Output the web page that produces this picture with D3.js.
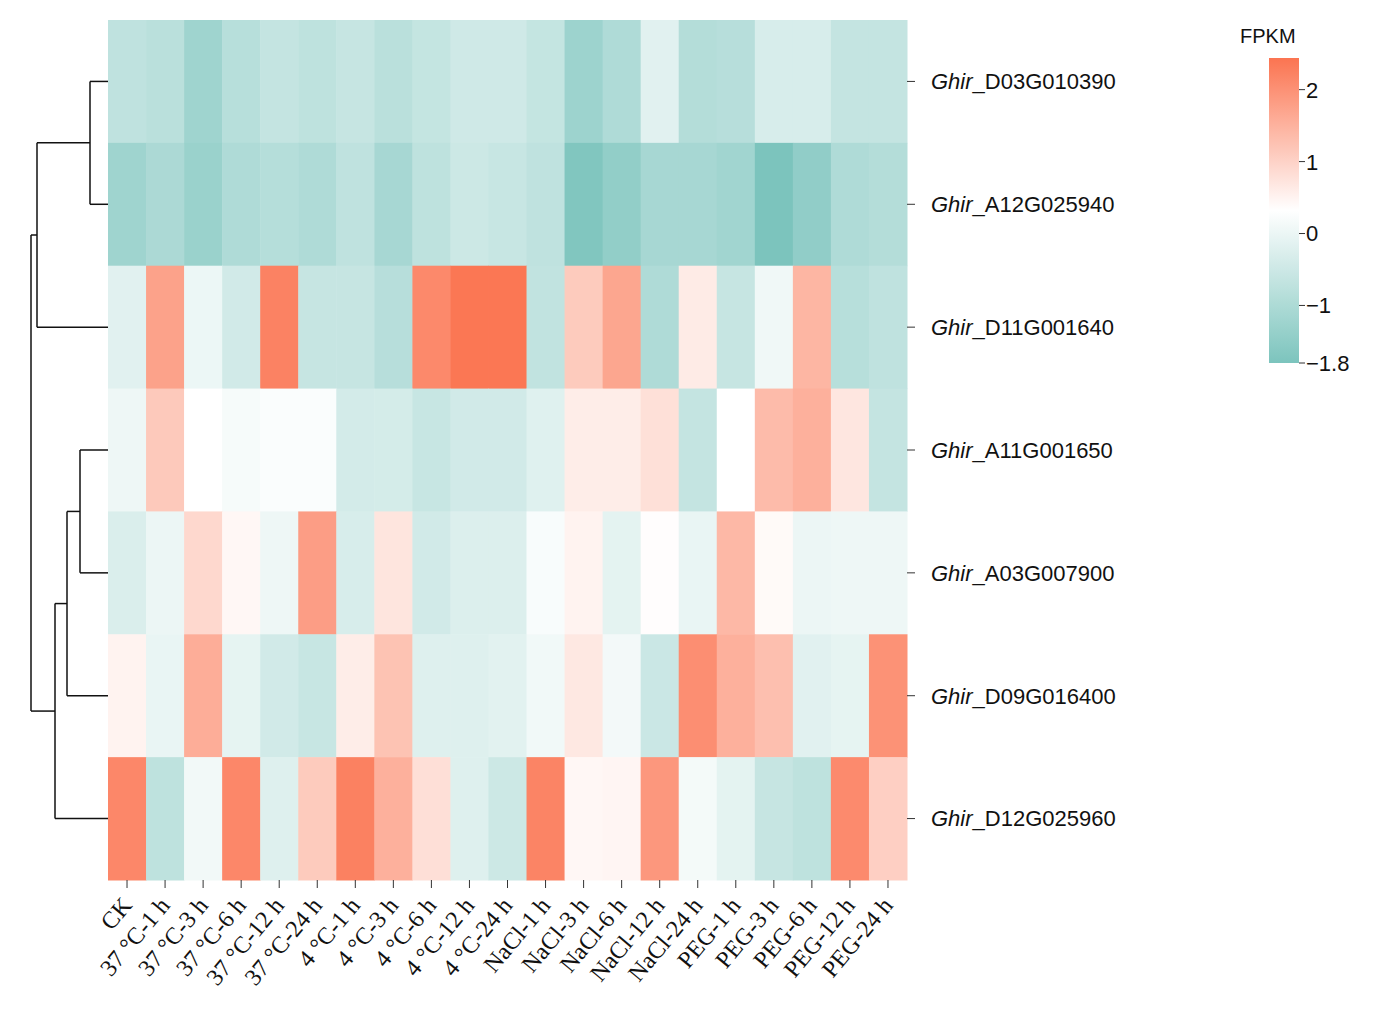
<!DOCTYPE html>
<html>
<head>
<meta charset="utf-8">
<script src="https://cdn.jsdelivr.net/npm/d3@7"></script>
<style>
  body { margin: 0; background: #fff; }
  svg { display: block; }
</style>
</head>
<body>
<svg id="chart" width="1377" height="1019"></svg>
<script>
// conditions (columns)
const conditions = ["CK", "37 °C-1 h", "37 °C-3 h", "37 °C-6 h", "37 °C-12 h", "37 °C-24 h",
  "4 °C-1 h", "4 °C-3 h", "4 °C-6 h", "4 °C-12 h", "4 °C-24 h",
  "NaCl-1 h", "NaCl-3 h", "NaCl-6 h", "NaCl-12 h", "NaCl-24 h",
  "PEG-1 h", "PEG-3 h", "PEG-6 h", "PEG-12 h", "PEG-24 h"];

// genes (rows, in dendrogram order)
const genes = ["D03G010390", "A12G025940", "D11G001640", "A11G001650", "A03G007900", "D09G016400", "D12G025960"];

// scaled FPKM values, one array per gene
const D03G010390 = [-0.72, -0.80, -1.23, -0.84, -0.64, -0.74, -0.61, -0.80, -0.63, -0.46, -0.46, -0.63, -1.26, -0.98, -0.17, -0.90, -0.85, -0.33, -0.33, -0.64, -0.64];
const A12G025940 = [-1.23, -1.03, -1.31, -0.98, -0.87, -0.98, -0.71, -1.10, -0.74, -0.50, -0.58, -0.71, -1.72, -1.44, -1.10, -1.10, -1.20, -1.80, -1.46, -0.98, -0.90];
const D11G001640 = [-0.17, 1.74, 0.02, -0.42, 2.22, -0.61, -0.61, -0.85, 2.12, 2.40, 2.40, -0.68, 1.12, 1.68, -0.98, 0.62, -0.60, 0.07, 1.44, -0.84, -0.71];
const A11G001650 = [0.04, 1.15, 0.32, 0.17, 0.24, 0.24, -0.40, -0.38, -0.58, -0.42, -0.42, -0.20, 0.60, 0.60, 0.80, -0.64, 0.32, 1.35, 1.53, 0.70, -0.64];
const A03G007900 = [-0.28, 0.01, 0.92, 0.44, 0.04, 1.81, -0.32, 0.72, -0.42, -0.25, -0.25, 0.21, 0.50, -0.12, 0.35, -0.04, 1.40, 0.40, 0.01, 0.04, 0.04];
const D09G016400 = [0.50, -0.04, 1.57, -0.09, -0.42, -0.58, 0.60, 1.24, -0.22, -0.22, -0.15, 0.09, 0.67, 0.12, -0.53, 2.04, 1.53, 1.29, -0.17, -0.09, 1.99];
const D12G025960 = [2.15, -0.74, 0.11, 2.15, -0.22, 1.12, 2.24, 1.53, 0.81, -0.22, -0.50, 2.20, 0.44, 0.47, 1.90, 0.14, -0.12, -0.61, -0.74, 2.10, 1.05];
const rowValues = [D03G010390, A12G025940, D11G001640, A11G001650, A03G007900, D09G016400, D12G025960];

// row dendrogram (merge heights)
const rowTree = {h: 7.7, children: [
  {h: 7.1, children: [
    {h: 1.8, children: [{leaf: "D03G010390"}, {leaf: "A12G025940"}]},
    {leaf: "D11G001640"}
  ]},
  {h: 5.3, children: [
    {h: 4.1, children: [
      {h: 2.8, children: [{leaf: "A11G001650"}, {leaf: "A03G007900"}]},
      {leaf: "D09G016400"}
    ]},
    {leaf: "D12G025960"}
  ]}
]};

// legend
const legendMin = -1.8, legendMax = 2.44;
const legendTicks = [-1.8, -1, 0, 1, 2];
const legendTitle = "FPKM";

const svg = d3.select("#chart");
const hmLeft = 108, hmRight = 907, hmTop = 20, hmBottom = 880;

const x = d3.scaleBand().domain(conditions).range([hmLeft, hmRight]);
const y = d3.scaleBand().domain(genes).range([hmTop, hmBottom]);
const mid = (legendMin + legendMax) / 2;
const color = d3.scaleLinear()
  .domain([legendMin, mid, legendMax])
  .range(["#7cc4bd", "#ffffff", "#fb7451"])
  .interpolate(d3.interpolateRgb)
  .clamp(true);

// cells
const cells = [];
genes.forEach((g, i) => conditions.forEach((c, j) => cells.push({gene: g, cond: c, v: rowValues[i][j]})));
svg.append("g").selectAll("rect").data(cells).join("rect")
  .attr("x", d => x(d.cond))
  .attr("y", d => y(d.gene))
  .attr("width", x.bandwidth() + 0.5)
  .attr("height", y.bandwidth() + 0.5)
  .attr("fill", d => color(d.v));

// right gene labels
const rowAxis = svg.append("g");
rowAxis.selectAll("line").data(genes).join("line")
  .attr("x1", hmRight).attr("x2", hmRight + 8)
  .attr("y1", d => y(d) + y.bandwidth() / 2).attr("y2", d => y(d) + y.bandwidth() / 2)
  .attr("stroke", "#333").attr("stroke-width", 1);
const rowText = rowAxis.selectAll("text").data(genes).join("text")
  .attr("x", hmRight + 24)
  .attr("y", d => y(d) + y.bandwidth() / 2)
  .attr("dy", "0.36em")
  .style("font-family", "'Liberation Sans', Arial, sans-serif")
  .style("font-size", "22px")
  .attr("fill", "#111");
rowText.append("tspan").style("font-style", "italic").text("Ghir");
rowText.append("tspan").text(d => "_" + d);

// bottom condition labels
const colAxis = svg.append("g");
colAxis.selectAll("line").data(conditions).join("line")
  .attr("x1", d => x(d) + x.bandwidth() / 2).attr("x2", d => x(d) + x.bandwidth() / 2)
  .attr("y1", hmBottom).attr("y2", hmBottom + 8)
  .attr("stroke", "#333").attr("stroke-width", 1);
colAxis.selectAll("text").data(conditions).join("text")
  .attr("transform", d => `translate(${x(d) + x.bandwidth() / 2 + 6},${hmBottom + 26}) rotate(-50)`)
  .attr("text-anchor", "end")
  .style("font-family", "'Liberation Serif', 'Times New Roman', serif")
  .style("font-size", "24px")
  .attr("fill", "#111")
  .text(d => d);

// dendrogram
const root = d3.hierarchy(rowTree);
const hx = d3.scaleLinear().domain([0, 7.7]).range([hmLeft, 31]);
root.eachAfter(n => {
  if (!n.children) { n.py = y(n.data.leaf) + y.bandwidth() / 2; n.px = hmLeft; }
  else { n.py = d3.mean(n.children, c => c.py); n.px = hx(n.data.h); }
});
const dendro = svg.append("g").attr("fill", "none").attr("stroke", "#111").attr("stroke-width", 1.5);
root.descendants().filter(n => n.children).forEach(n => {
  dendro.append("line")
    .attr("x1", n.px).attr("x2", n.px)
    .attr("y1", d3.min(n.children, c => c.py)).attr("y2", d3.max(n.children, c => c.py));
  n.children.forEach(c => {
    dendro.append("line").attr("x1", n.px).attr("x2", c.px).attr("y1", c.py).attr("y2", c.py);
  });
});

// legend
const lgX = 1269, lgW = 30, lgTop = 58, lgBottom = 363;
const ly = d3.scaleLinear().domain([legendMin, legendMax]).range([lgBottom, lgTop]);
const grad = svg.append("defs").append("linearGradient").attr("id", "lg")
  .attr("x1", 0).attr("x2", 0).attr("y1", 1).attr("y2", 0);
d3.range(0, 1.0001, 0.05).forEach(t => {
  grad.append("stop").attr("offset", t).attr("stop-color", color(legendMin + t * (legendMax - legendMin)));
});
svg.append("rect").attr("x", lgX).attr("y", lgTop).attr("width", lgW).attr("height", lgBottom - lgTop)
  .attr("fill", "url(#lg)");
const lg = svg.append("g");
lg.selectAll("line").data(legendTicks).join("line")
  .attr("x1", lgX + lgW).attr("x2", lgX + lgW + 6)
  .attr("y1", d => ly(d)).attr("y2", d => ly(d))
  .attr("stroke", "#333");
lg.selectAll("text").data(legendTicks).join("text")
  .attr("x", lgX + lgW + 7)
  .attr("y", d => ly(d))
  .attr("dy", "0.36em")
  .style("font-family", "'Liberation Sans', Arial, sans-serif")
  .style("font-size", "22px")
  .attr("fill", "#111")
  .text(d => d < 0 ? "\u2212" + Math.abs(d) : d);
svg.append("text").attr("x", 1240).attr("y", 43)
  .style("font-family", "'Liberation Sans', Arial, sans-serif")
  .style("font-size", "20px")
  .attr("fill", "#111")
  .text(legendTitle);
</script>
</body>
</html>
